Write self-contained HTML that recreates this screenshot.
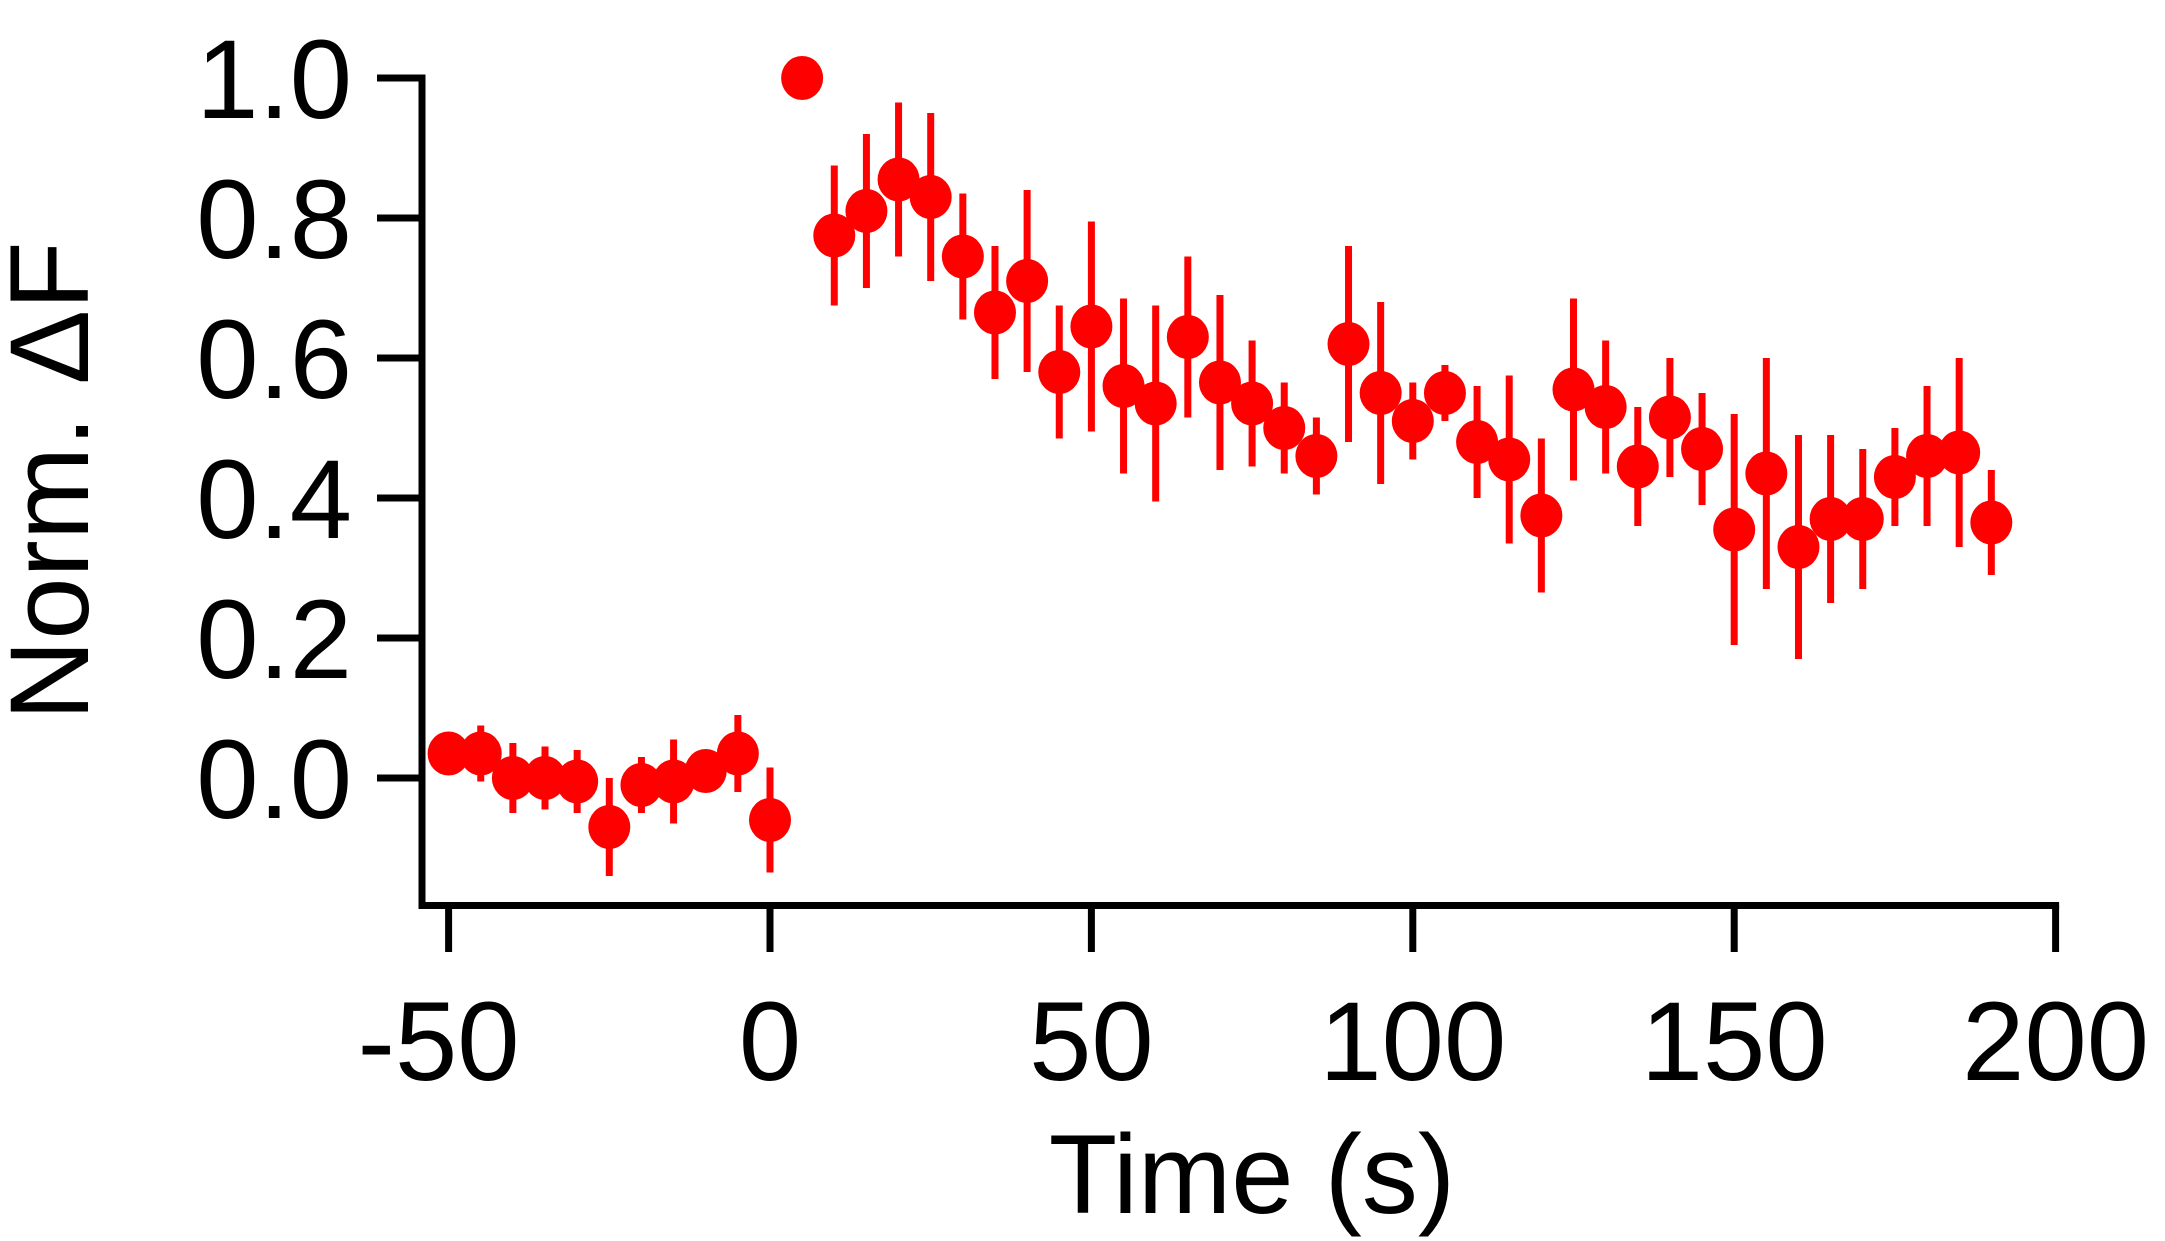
<!DOCTYPE html>
<html><head><meta charset="utf-8"><style>
html,body{margin:0;padding:0;background:#fff;}
svg{display:block;font-family:"Liberation Sans",Arial,sans-serif;}
</style></head><body>
<svg id="chart" width="2165" height="1241" viewBox="0 0 2165 1241">
<g id="axes"></g>
<g id="marks"></g>
<text x="1252" y="1213" font-size="112" text-anchor="middle">Time (s)</text>
<text transform="translate(88,481) rotate(-90)" x="0" y="0" font-size="112" text-anchor="middle">Norm. ΔF</text>
</svg>
<script>
const times=[-50,-45,-40,-35,-30,-25,-20,-15,-10,-5,0,5,10,15,20,25,30,35,40,45,50,55,60,65,70,75,80,85,90,95,100,105,110,115,120,125,130,135,140,145,150,155,160,165,170,175,180,185,190];
const values=[0.035,0.035,0.0,0.0,-0.005,-0.07,-0.01,-0.005,0.01,0.035,-0.06,1.0,0.775,0.81,0.855,0.83,0.745,0.665,0.71,0.58,0.645,0.56,0.535,0.63,0.565,0.535,0.5,0.46,0.62,0.55,0.51,0.55,0.48,0.455,0.375,0.555,0.53,0.445,0.515,0.47,0.355,0.435,0.33,0.37,0.37,0.43,0.46,0.465,0.365];
const errors=[0.03,0.04,0.05,0.045,0.045,0.07,0.04,0.06,0.03,0.055,0.075,0,0.1,0.11,0.11,0.12,0.09,0.095,0.13,0.095,0.15,0.125,0.14,0.115,0.125,0.09,0.065,0.055,0.14,0.13,0.055,0.04,0.08,0.12,0.11,0.13,0.095,0.085,0.085,0.08,0.165,0.165,0.16,0.12,0.1,0.07,0.1,0.135,0.075];
const xTicks=[-50,0,50,100,150,200];
const yTicks=[0.0,0.2,0.4,0.6,0.8,1.0];
const yTickLabels=["0.0","0.2","0.4","0.6","0.8","1.0"];

const NS="http://www.w3.org/2000/svg";
function xs(v){return 770+(v)*321.4/50;}
function ys(v){return 778-v*700;}
function mk(tag,attrs,parent){const e=document.createElementNS(NS,tag);for(const k in attrs)e.setAttribute(k,attrs[k]);parent.appendChild(e);return e;}
const axes=document.getElementById('axes');
const marks=document.getElementById('marks');
let a=mk('line',{x1:422,y1:ys(1.0)-3.5,x2:422,y2:909,stroke:'#000','stroke-width':7},axes);


a=mk('line',{x1:418.5,y1:905.5,x2:xs(200)+3.5,y2:905.5,stroke:'#000','stroke-width':7},axes);


yTicks.forEach((t,i)=>{
  const l=mk('line',{x1:377,y1:ys(t),x2:422,y2:ys(t),stroke:'#000','stroke-width':7},axes);
  
  
  const tx=mk('text',{x:352,y:ys(t)+40,'font-size':112,'text-anchor':'end'},axes);
  tx.textContent=yTickLabels[i];
  
  
});
xTicks.forEach(t=>{
  const l=mk('line',{x1:xs(t),y1:905,x2:xs(t),y2:952,stroke:'#000','stroke-width':7},axes);
  
  
  const tx=mk('text',{x:xs(t)+(t<0?-10:0),y:1080,'font-size':112,'text-anchor':'middle'},axes);
  tx.textContent=String(t);
  
  
});
times.forEach((t,i)=>{
  const x=xs(t),y=ys(values[i]),e=errors[i]*700;
  if(e>0){
    const b=mk('line',{x1:x,y1:y-e,x2:x,y2:y+e,stroke:'#ff0000','stroke-width':7},marks);
    
    
  }
  const c=mk('ellipse',{cx:x,cy:y,rx:21,ry:22,fill:'#ff0000'},marks);
  
  
});
</script>
</body></html>
